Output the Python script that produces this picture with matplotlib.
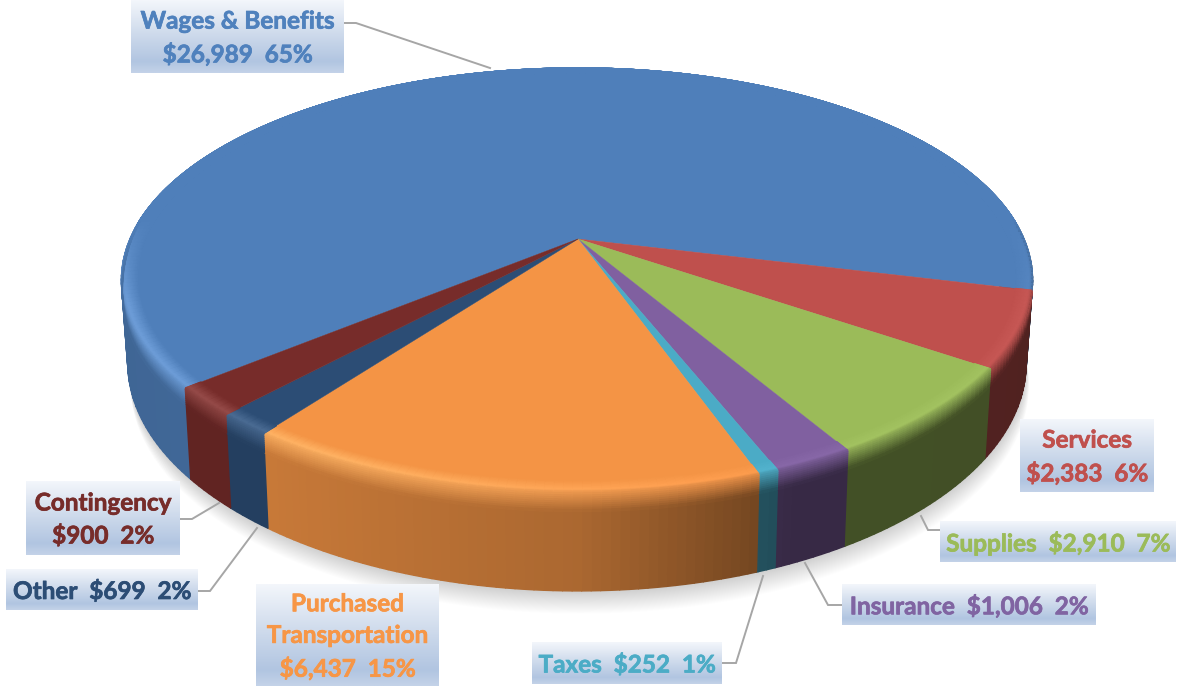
import numpy as np
import matplotlib

matplotlib.use("Agg")
import matplotlib.pyplot as plt
import matplotlib.patheffects as pe
from matplotlib.collections import PolyCollection
from matplotlib.colors import to_rgb, LinearSegmentedColormap

plt.rcParams["font.family"] = ["Lato", "DejaVu Sans"]

# slices, clockwise from the wages slice
names = ["Wages & Benefits", "Services", "Supplies", "Insurance", "Taxes",
         "Purchased\nTransportation", "Other", "Contingency"]
amounts = [26989, 2383, 2910, 1006, 252, 6437, 699, 900]
percents = [65, 6, 7, 2, 1, 15, 2, 2]
seps = ["\n", "\n", "  ", "  ", "  ", "\n", "  ", "\n"]
colors = ["#4f7fba", "#bf504d", "#9bbb59", "#8060a0", "#4babc6", "#f49445", "#2c4d75", "#772c2a"]
text_colors = ["#4f81bd", "#c0504d", "#9bbb59", "#8064a2", "#4bacc6", "#f79646", "#2c4d75", "#772c2a"]

# label boxes: x0, x1, y0, y1 in pixels
boxes = [(131, 344, 0, 73), (1020, 1154, 419, 492), (940, 1176, 521, 562), (842, 1096, 584, 625),
         (532, 722, 642, 684), (256, 439, 584, 686), (6, 198, 569, 610), (26, 180, 481, 555)]
leaders = [[(344, 23), (356, 23), (490, 68)], None, [(940, 530), (928, 530), (921, 516)],
           [(842, 605), (828, 605), (805, 563)], [(722, 663), (736, 663), (763, 576)], None,
           [(198, 591), (210, 591), (257, 528)], [(180, 519), (192, 519), (219, 503)]]

START = 219.8
CX, CY = 578, 239
A_LEFT, A_RIGHT, B, K = 448, 446, 204, 0.193
H, SHRINK = 80, 0.986

# wall brightness against position across the pie
shade_x = [-1, -0.6, 0, 0.4, 1]
shade_y = [0.8, 0.82, 0.7, 0.43, 0.42]


def project(r, deg, drop=0.0):
    """Map disc coords to pixels with a simple perspective."""
    th = np.radians(deg)
    u, v = r * np.cos(th), r * np.sin(th)
    den = 1 + K * v
    a = np.where(u < 0, A_LEFT, A_RIGHT)
    x = CX + a * u / den * (1 - (1 - SHRINK) * drop / H)
    y = CY - B * v / den + drop / den
    return x, y


def quad(r0, r1, d0, d1, drop0=0.0, drop1=0.0):
    x0, y0 = project(r0, d0, drop0)
    x1, y1 = project(r0, d1, drop0)
    x2, y2 = project(r1, d1, drop1)
    x3, y3 = project(r1, d0, drop1)
    return [(x0, y0), (x1, y1), (x2, y2), (x3, y3)]


fig = plt.figure(figsize=(11.82, 6.86), dpi=100)
ax = fig.add_axes([0, 0, 1, 1])
ax.axis("off")

# soft shadow under the pie
ring = np.linspace(0, 360, 361)
for i in range(1, 25):
    sx, sy = project(1.0, ring, H)
    ax.fill(sx + 0.12 * i, sy + 0.95 * i, color="black", alpha=0.008, lw=0, zorder=1)

fracs = np.array(amounts) / sum(amounts)
edges = START - np.concatenate([[0], np.cumsum(fracs)]) * 360
bands = np.linspace(0, 1, 25)

for i, col in enumerate(colors):
    base = np.array(to_rgb(col))
    steps = np.arange(edges[i], edges[i + 1], -1.0).tolist() + [edges[i + 1]]
    walls, wall_cols, rims, rim_cols = [], [], [], []
    for d0, d1 in zip(steps[:-1], steps[1:]):
        mid = np.radians((d0 + d1) / 2)
        u, v = np.cos(mid), np.sin(mid)
        wall = base * np.interp(u, shade_x, shade_y)
        walls.append(quad(1.0, 1.0, d0, d1, 0, H))
        wall_cols.append(wall)
        strength = np.clip((0.1 - v) / 0.4, 0, 1)
        lit = np.clip((0.35 - u) / 0.8, 0, 1)
        glow = np.clip(base + 0.09 * lit + 0.03, 0, 1)
        # bevel: top colour, highlight, then into the wall over a short drop
        for t0, t1 in zip(bands[:-1], bands[1:]):
            tm = (t0 + t1) / 2
            if tm < 0.5:
                c = base + (glow - base) * (tm / 0.5) * strength
            else:
                c = glow + (wall - glow) * ((tm - 0.5) / 0.5)
                c = base + (c - base) * strength
            r_a = 0.965 + 0.035 * min(t0 / 0.6, 1)
            r_b = 0.965 + 0.035 * min(t1 / 0.6, 1)
            dr_a = 16 * strength * max(t0 - 0.6, 0) / 0.4
            dr_b = 16 * strength * max(t1 - 0.6, 0) / 0.4
            rims.append(quad(r_a, r_b, d0, d1, dr_a, dr_b))
            rim_cols.append(c)
    ax.add_collection(PolyCollection(walls, facecolors=wall_cols, edgecolors=wall_cols, linewidths=1.0, zorder=2))
    arc = np.array(steps)
    px, py = project(0.965, arc)
    ax.fill(np.r_[CX, px], np.r_[CY, py], color=col, lw=0.3, zorder=3)
    ax.add_collection(PolyCollection(rims, facecolors=rim_cols, edgecolors=rim_cols, linewidths=1.0, zorder=4))

# leader lines
for pts in leaders:
    if pts:
        xs, ys = zip(*pts)
        ax.plot(xs, ys, color="#a6a6a6", lw=1.4, zorder=5, solid_joinstyle="miter")

# label boxes with a vertical gradient
box_cmap = LinearSegmentedColormap.from_list(
    "box", [(0, "#f3f6fb"), (0.45, "#cfdbec"), (0.85, "#b1c5e1"), (1, "#c3d2e8")])
grad = np.linspace(0, 1, 64).reshape(-1, 1)
for i, (x0, x1, y0, y1) in enumerate(boxes):
    ax.imshow(grad, cmap=box_cmap, vmin=0, vmax=1, extent=(x0, x1, y1, y0), aspect="auto", zorder=6)
    label = f"{names[i]}{seps[i]}${amounts[i]:,}  {percents[i]}%"
    t = ax.text((x0 + x1) / 2, (y0 + y1) / 2 + 1.5, label, ha="center", va="center", color=text_colors[i],
                fontsize=17.5, fontweight="bold", linespacing=1.45, zorder=7)
    t.set_path_effects([pe.withStroke(linewidth=0.5, foreground=text_colors[i])])

ax.set_xlim(0, 1182)
ax.set_ylim(686, 0)
fig.savefig("out.png", dpi=100)
